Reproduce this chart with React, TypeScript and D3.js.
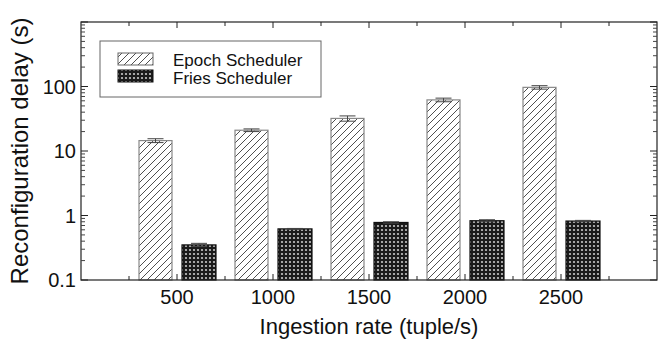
import React from "react";
import * as d3 from "d3";

const categories = [500, 1000, 1500, 2000, 2500];
const epochValues = [14.5, 21, 32, 62, 97];
const epochErrors = [1, 1, 3, 4, 6];
const friesValues = [0.35, 0.62, 0.78, 0.83, 0.82];
const friesErrors = [0.02, 0.01, 0.02, 0.03, 0.02];
const yTickLabels = ["0.1", "1", "10", "100"];
const xTickLabels = ["500", "1000", "1500", "2000", "2500"];
const seriesNames = ["Epoch Scheduler", "Fries Scheduler"];

const W = 664;
const H = 344;
const left = 81;
const right = 657;
const top = 22;
const bottom = 280;
const FONT = "'Liberation Sans', Arial, sans-serif";

export default function App() {
  const x = d3.scaleLinear().domain([0, 3000]).range([left, right]);
  const y = d3.scaleLog().domain([0.1, 1000]).range([bottom, top]);

  const xMinor = d3.range(250, 3000, 250);
  const decades = [0.1, 1, 10, 100, 1000];
  const yMinor: number[] = [];
  [0.1, 1, 10, 100].forEach((d) => {
    for (let k = 2; k <= 9; k++) yMinor.push(d * k);
  });

  const bw = 33;
  const gap = 5;

  const errBar = (cx: number, v: number, e: number, key: string) => {
    const y1 = y(v + e);
    const y0 = y(Math.max(v - e, 0.11));
    return (
      <g key={key} stroke="#444" strokeWidth={1}>
        <line x1={cx} x2={cx} y1={y1} y2={y0} />
        <line x1={cx - 8} x2={cx + 8} y1={y1} y2={y1} />
        <line x1={cx - 8} x2={cx + 8} y1={y0} y2={y0} />
      </g>
    );
  };

  return (
    <svg
      width={W}
      height={H}
      style={{ position: "absolute", left: 0, top: 0, background: "#fff" }}
    >
      <defs>
        <pattern id="hatch" width={7} height={7} patternUnits="userSpaceOnUse">
          <rect width={7} height={7} fill="#fff" />
          <path d="M0,7 L7,0 M-1,1 L1,-1 M6,8 L8,6" stroke="#222" strokeWidth={0.8} />
        </pattern>
        <pattern id="dots" width={4} height={4} patternUnits="userSpaceOnUse">
          <rect width={4} height={4} fill="#1a1a1a" />
          <circle cx={2} cy={2} r={1.1} fill="#c8c8c8" />
        </pattern>
      </defs>

      {/* bars */}
      {categories.map((c, i) => {
        const cx = x(c);
        const ex0 = cx - gap - bw;
        const fx0 = cx + gap;
        return (
          <g key={c}>
            <rect
              x={ex0}
              y={y(epochValues[i])}
              width={bw}
              height={bottom - y(epochValues[i])}
              fill="url(#hatch)"
              stroke="#888"
              strokeWidth={1.2}
            />
            <rect
              x={fx0}
              y={y(friesValues[i])}
              width={bw + 1}
              height={bottom - y(friesValues[i])}
              fill="url(#dots)"
              stroke="#111"
              strokeWidth={1.2}
            />
            {errBar(ex0 + bw / 2, epochValues[i], epochErrors[i], "e" + c)}
            {errBar(fx0 + (bw + 1) / 2, friesValues[i], friesErrors[i], "f" + c)}
          </g>
        );
      })}

      {/* frame */}
      <rect
        x={left}
        y={top}
        width={right - left}
        height={bottom - top}
        fill="none"
        stroke="#222"
        strokeWidth={1.2}
      />

      {/* x ticks */}
      {xMinor.map((v) => {
        const major = v % 500 === 0;
        const len = major ? 6 : 4;
        return (
          <g key={"xt" + v} stroke="#222" strokeWidth={1}>
            <line x1={x(v)} x2={x(v)} y1={bottom} y2={bottom - len} />
            <line x1={x(v)} x2={x(v)} y1={top} y2={top + len} />
          </g>
        );
      })}

      {/* y ticks */}
      {decades.map((v) => (
        <g key={"yt" + v} stroke="#222" strokeWidth={1}>
          <line x1={left} x2={left + 7} y1={y(v)} y2={y(v)} />
          <line x1={right} x2={right - 7} y1={y(v)} y2={y(v)} />
        </g>
      ))}
      {yMinor.map((v) => (
        <g key={"ym" + v} stroke="#444" strokeWidth={1}>
          <line x1={left} x2={left + 4} y1={y(v)} y2={y(v)} />
          <line x1={right} x2={right - 4} y1={y(v)} y2={y(v)} />
        </g>
      ))}

      {/* tick labels */}
      {yTickLabels.map((t) => (
        <text
          key={"yl" + t}
          x={76}
          y={y(+t)}
          dy="0.36em"
          textAnchor="end"
          fontFamily={FONT}
          fontSize={20}
          fill="#111"
        >
          {t}
        </text>
      ))}
      {xTickLabels.map((t) => (
        <text
          key={"xl" + t}
          x={x(+t)}
          y={304}
          textAnchor="middle"
          fontFamily={FONT}
          fontSize={20}
          fill="#111"
        >
          {t}
        </text>
      ))}

      {/* axis titles */}
      <text
        x={(left + right) / 2}
        y={334}
        textAnchor="middle"
        fontFamily={FONT}
        fontSize={22}
        fill="#111"
      >
        Ingestion rate (tuple/s)
      </text>
      <text
        transform={`translate(28,151) rotate(-90)`}
        textAnchor="middle"
        fontFamily={FONT}
        fontSize={24}
        fill="#111"
      >
        Reconfiguration delay (s)
      </text>

      {/* legend */}
      <rect x={100} y={41} width={221} height={56} fill="#fff" stroke="#666" strokeWidth={1} />
      <rect x={118} y={53} width={35} height={12} fill="url(#hatch)" stroke="#666" strokeWidth={1} />
      <rect x={118} y={70} width={35} height={12} fill="url(#dots)" stroke="#111" strokeWidth={1} />
      <text x={173} y={66} fontFamily={FONT} fontSize={17} fill="#111">
        {seriesNames[0]}
      </text>
      <text x={173} y={84} fontFamily={FONT} fontSize={17} fill="#111">
        {seriesNames[1]}
      </text>
    </svg>
  );
}
